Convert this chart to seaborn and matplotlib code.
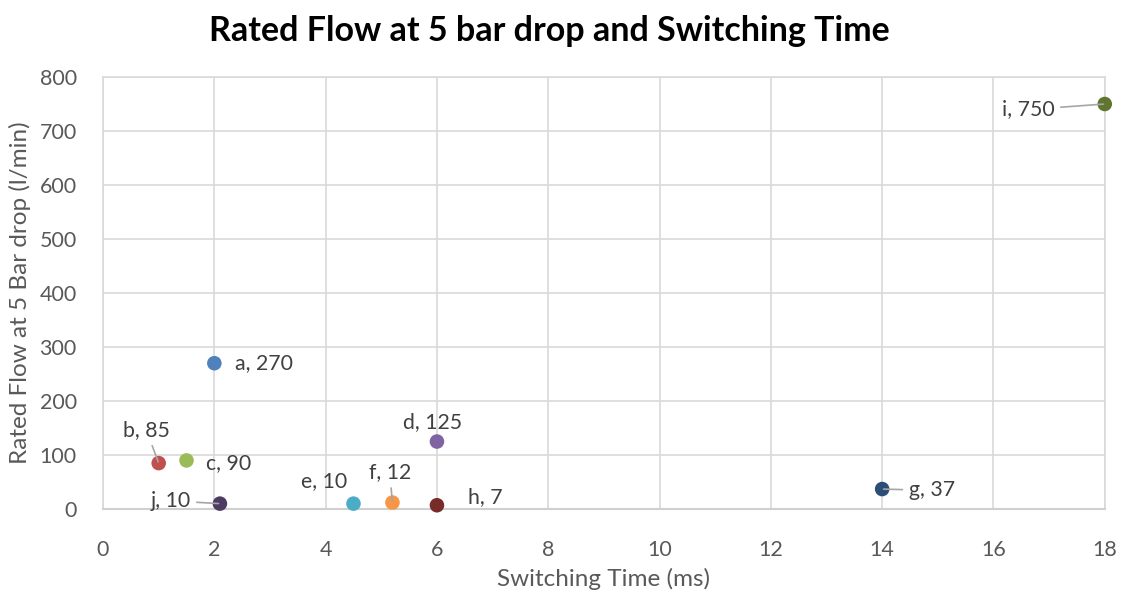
import matplotlib
matplotlib.use("Agg")
import matplotlib.pyplot as plt
import seaborn as sns
import pandas as pd

# Valve data: switching time (ms) vs. rated flow at 5 bar drop (l/min)
names = ["a", "b", "c", "d", "e", "f", "g", "h", "i", "j"]
switching_ms = [2.0, 1.0, 1.5, 6.0, 4.5, 5.2, 14.0, 6.0, 18.0, 2.1]
flow_lpm = [270, 85, 90, 125, 10, 12, 37, 7, 750, 10]
colors = ["#4F81BD", "#C0504D", "#9BBB59", "#8064A2", "#4BACC6",
          "#F79646", "#2C4D75", "#772C2A", "#5F7530", "#4D3B62"]
x_ticks = [0, 2, 4, 6, 8, 10, 12, 14, 16, 18]
y_ticks = [0, 100, 200, 300, 400, 500, 600, 700, 800]

# Label placement: offset in points, alignment, and whether a leader line is drawn
label_style = {
    "a": ((15, 0), "left", False),
    "b": ((-9, 24), "center", True),
    "c": ((14, -2), "left", False),
    "d": ((-3, 14), "center", False),
    "e": ((-21, 16), "center", False),
    "f": ((-2, 22), "center", True),
    "g": ((19, -1), "left", True),
    "h": ((22, 6), "left", False),
    "i": ((-36, -4), "right", True),
    "j": ((-21, 2), "right", True),
}

df = pd.DataFrame({"name": names, "time": switching_ms, "flow": flow_lpm})

sns.set_theme(style="white")
plt.rcParams["font.family"] = ["Lato", "DejaVu Sans"]
text_color = "#595959"
grid_color = "#D9D9D9"

fig = plt.figure(figsize=(11.25, 5.91), dpi=100)
ax = fig.add_axes([0.0916, 0.1387, 0.8904, 0.731])

sns.scatterplot(data=df, x="time", y="flow", hue="name", palette=colors,
                s=110, edgecolor="none", legend=False, ax=ax, zorder=3, clip_on=False)

for n, xv, yv in zip(names, switching_ms, flow_lpm):
    (dx, dy), ha, leader = label_style[n]
    arrow = None
    if leader:
        arrow = dict(arrowstyle="-", color="#A6A6A6", lw=1.2, shrinkA=2, shrinkB=1)
    ax.annotate(f"{n}, {yv}", xy=(xv, yv), xytext=(dx, dy), textcoords="offset points",
                ha=ha, va="center", fontsize=15.3, color="#404040",
                arrowprops=arrow, zorder=4)

ax.set_xlim(0, 18)
ax.set_ylim(0, 800)
ax.set_xticks(x_ticks)
ax.set_yticks(y_ticks)
ax.grid(True, color=grid_color, linewidth=1.2)
ax.set_axisbelow(True)
for side in ["top", "right", "left"]:
    ax.spines[side].set_color(grid_color)
    ax.spines[side].set_linewidth(1.2)
ax.spines["bottom"].set_color("#D0D0D0")
ax.spines["bottom"].set_linewidth(1.5)
ax.tick_params(axis="both", length=0, labelsize=15.5, labelcolor=text_color)
ax.tick_params(axis="x", pad=22)
ax.tick_params(axis="y", pad=19)

ax.set_xlabel("Switching Time (ms)", fontsize=17.5, color=text_color, labelpad=6)
ax.set_ylabel("Rated Flow at 5 Bar drop (l/min)", fontsize=17.5, color=text_color, labelpad=6)
fig.suptitle("Rated Flow at 5 bar drop and Switching Time", fontsize=24.5,
             fontweight="bold", color="black", x=0.488, y=0.975)

fig.savefig("out.png", dpi=100, facecolor="white")
